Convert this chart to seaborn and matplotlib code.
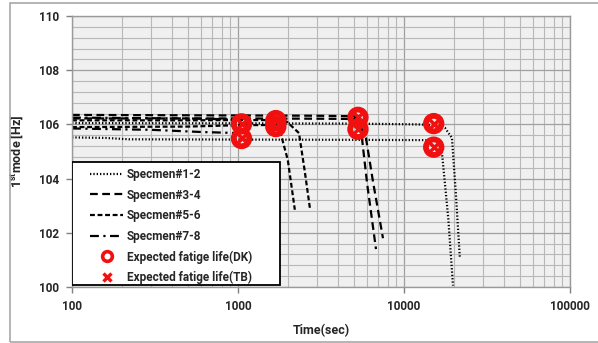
import numpy as np
import pandas as pd
import matplotlib
matplotlib.use("Agg")
import matplotlib.pyplot as plt
from matplotlib.lines import Line2D
from matplotlib.patches import Rectangle
from matplotlib.ticker import LogLocator, MultipleLocator, FixedLocator, FixedFormatter, NullFormatter
import seaborn as sns

# ---- data ----
s12a_x = [100, 1000, 5000, 12000, 16000, 17660, 19450, 20500, 21700]
s12a_y = [106.05, 106.04, 106.03, 106.0, 105.97, 105.87, 105.5, 103.5, 101.07]
s12b_x = [100, 160, 220, 1000, 5000, 13500, 15100, 16940, 18500, 19730]
s12b_y = [105.52, 105.5, 105.45, 105.44, 105.43, 105.42, 105.17, 104.94, 102.5, 100.05]

s34a_x = [100, 1000, 3000, 5000, 5400, 5580, 6000, 6780]
s34a_y = [106.35, 106.33, 106.32, 106.3, 106.1, 105.5, 103.8, 101.4]
s34b_x = [100, 1000, 3000, 5200, 5500, 5900, 6500, 7470]
s34b_y = [106.22, 106.22, 106.21, 106.2, 105.9, 105.5, 103.9, 101.8]

s56a_x = [100, 500, 1000, 1700, 1970, 2330, 2520, 2720]
s56a_y = [106.15, 106.15, 106.16, 106.16, 106.1, 105.68, 104.3, 102.85]
s56b_x = [100, 500, 1000, 1700, 1800, 1995, 2200]
s56b_y = [105.9, 105.92, 105.97, 105.98, 105.7, 104.69, 102.85]

s78a_x = [100, 300, 600, 1000, 1070, 1100]
s78a_y = [105.85, 105.8, 105.72, 105.68, 105.45, 105.15]
s78b_x = [100, 500, 1000, 1060]
s78b_y = [106.25, 106.22, 106.18, 106.0]

life_x = [1050, 1050, 1690, 1690, 5280, 5280, 15100, 15100]
life_y = [106.02, 105.48, 106.14, 105.92, 106.26, 105.82, 106.03, 105.16]

xticks = [100, 1000, 10000, 100000]
xticklabels = ["100", "1000", "10000", "100000"]
yticks = [100, 102, 104, 106, 108, 110]
yticklabels = ["100", "102", "104", "106", "108", "110"]

legend_labels = ["Specmen#1-2", "Specmen#3-4", "Specmen#5-6", "Specmen#7-8",
                 "Expected fatige life(DK)", "Expected fatige life(TB)"]

# ---- plotting ----
sns.set_theme(style="white")
plt.rcParams['font.family'] = ['Roboto', 'DejaVu Sans']
plt.rcParams['font.weight'] = 'bold'
plt.rcParams['mathtext.fontset'] = 'custom'
plt.rcParams['mathtext.bf'] = 'Roboto:bold'
plt.rcParams['mathtext.rm'] = 'Roboto:bold'

RED = '#f01010'

fig = plt.figure(figsize=(5.98, 3.43), dpi=100)
fig.patch.set_facecolor('white')
fig.add_artist(Rectangle((10 / 598, 1 - 342 / 343), 600 / 598, 339 / 343,
                         transform=fig.transFigure, fill=False,
                         edgecolor='#a8a8a8', lw=1.2))

ax = fig.add_axes([72 / 598, 1 - 287 / 343, 498 / 598, 271 / 343])
ax.set_facecolor('#f0f0f0')

styles = {
    'dot': dict(linestyle=(0, (0.6, 0.9)), lw=1.6),
    'd34': dict(linestyle=(0, (3.5, 2.0)), lw=1.6),
    'd56': dict(linestyle=(0, (2.2, 1.2)), lw=1.6),
    'd78': dict(linestyle=(0, (4.0, 2.0, 1.0, 2.0)), lw=1.6),
}

curves = [
    (s12a_x, s12a_y, 'dot'), (s12b_x, s12b_y, 'dot'),
    (s34a_x, s34a_y, 'd34'), (s34b_x, s34b_y, 'd34'),
    (s56a_x, s56a_y, 'd56'), (s56b_x, s56b_y, 'd56'),
    (s78a_x, s78a_y, 'd78'), (s78b_x, s78b_y, 'd78'),
]
for cx, cy, st in curves:
    sns.lineplot(x=cx, y=cy, ax=ax, color='black', sort=False, estimator=None,
                 **styles[st])

sns.scatterplot(x=life_x, y=life_y, ax=ax, marker='o', s=125, facecolor='none',
                edgecolor=RED, linewidth=4.2, zorder=5)
sns.scatterplot(x=life_x, y=life_y, ax=ax, marker='x', s=45, color=RED,
                linewidth=2.5, zorder=6)

ax.set_xscale('log')
ax.set_xlim(100, 100000)
ax.set_ylim(100, 110)

ax.xaxis.set_major_locator(FixedLocator(xticks))
ax.xaxis.set_major_formatter(FixedFormatter(xticklabels))
ax.xaxis.set_minor_locator(LogLocator(base=10, subs=np.arange(2, 10)))
ax.xaxis.set_minor_formatter(NullFormatter())
ax.yaxis.set_major_locator(FixedLocator(yticks))
ax.yaxis.set_major_formatter(FixedFormatter(yticklabels))
ax.yaxis.set_minor_locator(MultipleLocator(0.4))

ax.grid(which='major', color='#a0a0a0', lw=0.9)
ax.grid(which='minor', color='#b8b8b8', lw=0.8)
ax.set_axisbelow(True)

for sp in ax.spines.values():
    sp.set_color('#9a9a9a')
    sp.set_linewidth(1.0)

ax.tick_params(axis='both', which='major', length=4, width=1, color='#808080',
               labelsize=8.5, pad=5, direction='out', bottom=True, left=True)
ax.tick_params(axis='both', which='minor', length=0)
for lab in ax.get_xticklabels() + ax.get_yticklabels():
    lab.set_fontweight('bold')

ax.set_xlabel('Time(sec)', fontsize=9, fontweight='bold', labelpad=8)
ax.set_ylabel(r'1$^{\mathbf{st}}$mode [Hz]', fontsize=9, fontweight='bold', labelpad=10)

# legend box
ax.add_patch(Rectangle((0.0, 2 / 271), 208 / 498, 123 / 271, transform=ax.transAxes,
                       facecolor='white', edgecolor='black', lw=1.3, zorder=8))

handles = [
    Line2D([], [], color='black', **styles['dot']),
    Line2D([], [], color='black', **styles['d34']),
    Line2D([], [], color='black', **styles['d56']),
    Line2D([], [], color='black', **styles['d78']),
    Line2D([], [], linestyle='none', marker='o', markersize=7, markerfacecolor='none',
           markeredgecolor=RED, markeredgewidth=2.6),
    Line2D([], [], linestyle='none', marker='x', markersize=6, color=RED,
           markeredgewidth=2.4),
]
leg = ax.legend(handles, legend_labels, loc='upper left',
                bbox_to_anchor=(18 / 498, 119 / 271), frameon=False,
                borderpad=0, borderaxespad=0, handlelength=2.8, handletextpad=0.3,
                labelspacing=0.64, prop=dict(size=8.5, weight='bold'))
leg.set_zorder(9)

fig.savefig('out.png', dpi=100)
